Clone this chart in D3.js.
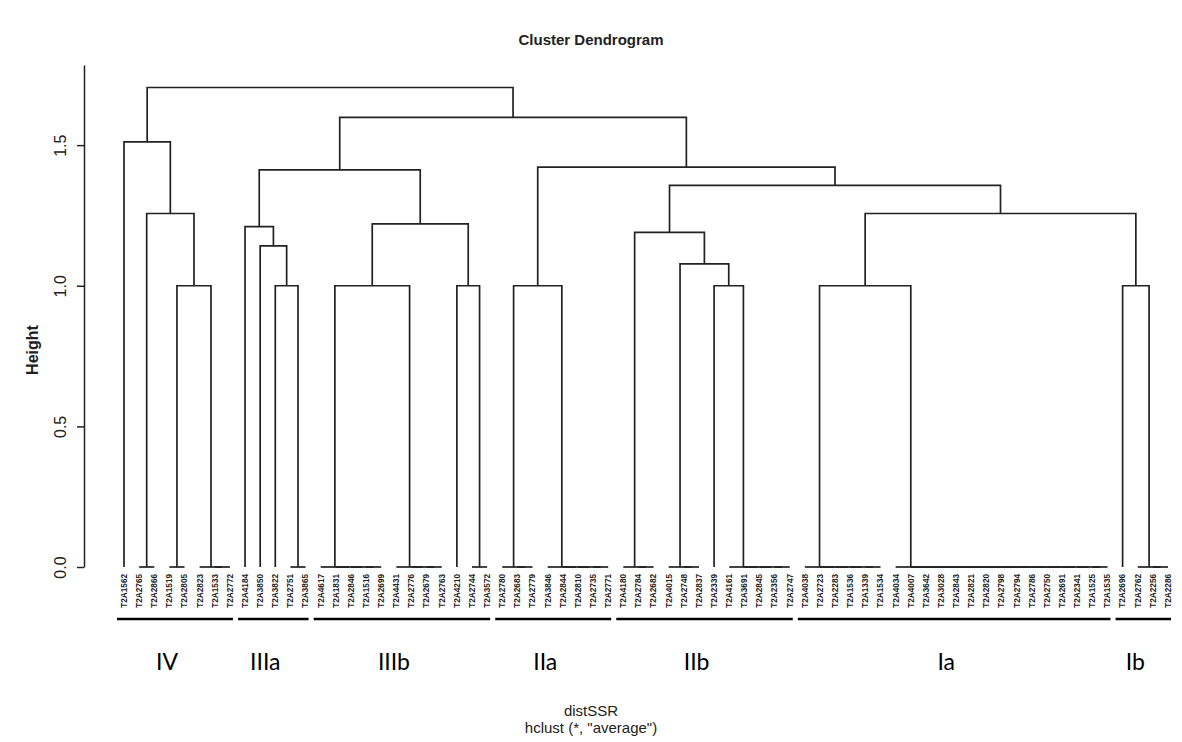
<!DOCTYPE html>
<html>
<head>
<meta charset="utf-8">
<script src="https://cdn.jsdelivr.net/npm/d3@7"></script>
<style>
body { margin: 0; background: #fff; }
svg { display: block; font-family: "Liberation Sans", Arial, sans-serif; }
</style>
</head>
<body>
<svg id="chart"></svg>
<script>
// leaf order as plotted
let labels = [
    'T2A1562', 'T2A2765', 'T2A2866', 'T2A1519', 'T2A2805', 'T2A2823', 'T2A1533', 'T2A2772',
    'T2A4184', 'T2A3850', 'T2A3822', 'T2A2751', 'T2A3865',
    'T2A4617', 'T2A1831', 'T2A2846', 'T2A1516', 'T2A2699', 'T2A4431', 'T2A2776', 'T2A2679', 'T2A2763', 'T2A4210', 'T2A2744', 'T2A3572',
    'T2A2780', 'T2A2683', 'T2A2779', 'T2A3846', 'T2A2844', 'T2A2810', 'T2A2735', 'T2A2771',
    'T2A4180', 'T2A2784', 'T2A2682', 'T2A4015', 'T2A2748', 'T2A2837', 'T2A2339', 'T2A4161', 'T2A3691', 'T2A2845', 'T2A2356', 'T2A2747',
    'T2A4038', 'T2A2723', 'T2A2283', 'T2A1536', 'T2A1339', 'T2A1534', 'T2A4034', 'T2A4007', 'T2A3642', 'T2A3028', 'T2A2843',
    'T2A2821', 'T2A2820', 'T2A2798', 'T2A2794', 'T2A2786', 'T2A2750', 'T2A2691', 'T2A2341', 'T2A1525', 'T2A1535',
    'T2A2696', 'T2A2762', 'T2A2256', 'T2A2286'
];

// hclust style merge table: negative = leaf (1-based), positive = earlier row (1-based)
let merges = [
    [-2, -3], [-4, -5], [-7, -8], [-6, 3], [-12, -13],
    [-17, -18], [-16, 6], [-15, 7], [-14, 8], [-21, -22], [-20, 10], [-19, 11], [-24, -25],
    [-27, -28], [-26, 14], [-32, -33], [-31, 16], [-30, 17], [-29, 18],
    [-35, -36], [-34, 20], [-38, -39], [-37, 22], [-44, -45], [-43, 24], [-42, 25], [-41, 26],
    [-50, -51], [-49, 28], [-48, 29], [-47, 30], [-46, 31],
    [-65, -66], [-64, 33], [-63, 34], [-62, 35], [-61, 36], [-60, 37], [-59, 38], [-58, 39],
    [-57, 40], [-56, 41], [-55, 42], [-54, 43], [-53, 44], [-52, 45],
    [-69, -70], [-68, 47],
    [2, 4], [-11, 5], [9, 12], [-23, 13], [15, 19], [-40, 27], [32, 46], [-67, 48],
    [23, 54], [-10, 50], [21, 57], [-9, 58], [51, 52], [1, 49], [55, 56],
    [59, 63], [60, 61], [53, 64], [-1, 62], [65, 66], [67, 68]
];
let heights = [
    0, 0, 0, 0, 0,
    0, 0, 0, 0, 0, 0, 0, 0,
    0, 0, 0, 0, 0, 0,
    0, 0, 0, 0, 0, 0, 0, 0,
    0, 0, 0, 0, 0,
    0, 0, 0, 0, 0, 0, 0, 0,
    0, 0, 0, 0, 0, 0,
    0, 0,
    1, 1, 1, 1, 1, 1, 1, 1,
    1.078, 1.142, 1.19, 1.21, 1.22, 1.257, 1.257,
    1.357, 1.412, 1.422, 1.512, 1.599, 1.705
];

let groups = ['IV', 'IIIa', 'IIIb', 'IIa', 'IIb', 'Ia', 'Ib'];
let groupFirst = [0, 8, 13, 25, 33, 45, 66];
let groupLast = [7, 12, 24, 32, 44, 65, 69];
let yTicks = [0, 0.5, 1, 1.5];

let w = 1182;
let h = 742;

let svg = d3.select('#chart')
    .attr('width', w)
    .attr('height', h);

let x = d3.scaleLinear().domain([0, labels.length - 1]).range([124, 1168]);
let y = d3.scaleLinear().domain([0, 1.785]).range([567, 65]);

// turn the merge table into a nested tree
function build(k) {
    if (k < 0) return { name: labels[-k - 1], leaf: -k - 1, h: 0 };
    let m = merges[k - 1];
    return { h: heights[k - 1], children: [build(m[0]), build(m[1])] };
}

let root = d3.hierarchy(build(merges.length));

// R puts a node halfway between its two children
root.eachAfter(d => {
    d.px = d.children ? (d.children[0].px + d.children[1].px) / 2 : x(d.data.leaf);
});

svg.append('g')
    .attr('fill', 'none')
    .attr('stroke', '#222')
    .attr('stroke-width', 1.7)
    .selectAll('path')
    .data(root.descendants().filter(d => d.children))
    .join('path')
    .attr('d', d => {
        let [a, b] = d.children;
        return `M${a.px},${y(a.data.h)}V${y(d.data.h)}H${b.px}V${y(b.data.h)}`;
    });

// leaf labels
svg.append('g')
    .selectAll('text')
    .data(root.leaves())
    .join('text')
    .attr('transform', d => `translate(${d.px}, 574) rotate(-90)`)
    .attr('text-anchor', 'end')
    .attr('dy', '0.35em')
    .attr('font-size', 8.2)
    .attr('font-weight', 'bold')
    .attr('fill', '#222')
    .text(d => d.data.name);

// y axis
let yAxis = d3.axisLeft(y)
    .tickValues(yTicks)
    .tickFormat(d3.format('.1f'))
    .tickSizeInner(7)
    .tickSizeOuter(0);

let $yAxis = svg.append('g')
    .attr('transform', 'translate(84, 0)')
    .call(yAxis);

$yAxis.selectAll('path, line').attr('stroke', '#222').attr('stroke-width', 1.5);
$yAxis.selectAll('text')
    .attr('transform', 'rotate(-90)')
    .attr('x', 0)
    .attr('y', -18)
    .attr('dy', 0)
    .attr('text-anchor', 'middle')
    .attr('font-size', 16)
    .attr('font-family', '"Liberation Sans", Arial, sans-serif')
    .attr('fill', '#222');

svg.append('text')
    .attr('transform', 'translate(38, 350) rotate(-90)')
    .attr('text-anchor', 'middle')
    .attr('font-size', 16)
    .attr('font-weight', 'bold')
    .attr('fill', '#222')
    .text('Height');

// titles
svg.append('text')
    .attr('x', 591)
    .attr('y', 45)
    .attr('text-anchor', 'middle')
    .attr('font-size', 15)
    .attr('font-weight', 'bold')
    .attr('fill', '#222')
    .text('Cluster Dendrogram');

svg.append('text')
    .attr('x', 591)
    .attr('y', 716)
    .attr('text-anchor', 'middle')
    .attr('font-size', 15)
    .attr('fill', '#222')
    .text('distSSR');

svg.append('text')
    .attr('x', 591)
    .attr('y', 733)
    .attr('text-anchor', 'middle')
    .attr('font-size', 15)
    .attr('fill', '#222')
    .text('hclust (*, "average")');

// group brackets
let g = svg.append('g')
    .selectAll('g')
    .data(groups)
    .join('g');

g.append('line')
    .attr('x1', (d, i) => x(groupFirst[i]) - 7)
    .attr('x2', (d, i) => x(groupLast[i]) + 3)
    .attr('y1', 619)
    .attr('y2', 619)
    .attr('stroke', '#000')
    .attr('stroke-width', 2.5);

g.append('text')
    .attr('x', (d, i) => (x(groupFirst[i]) + x(groupLast[i])) / 2 - 10)
    .attr('y', 670)
    .attr('text-anchor', 'middle')
    .attr('font-family', 'Lato, "Open Sans", sans-serif')
    .attr('font-size', 23)
    .attr('fill', '#000')
    .text(d => d);
</script>
</body>
</html>
